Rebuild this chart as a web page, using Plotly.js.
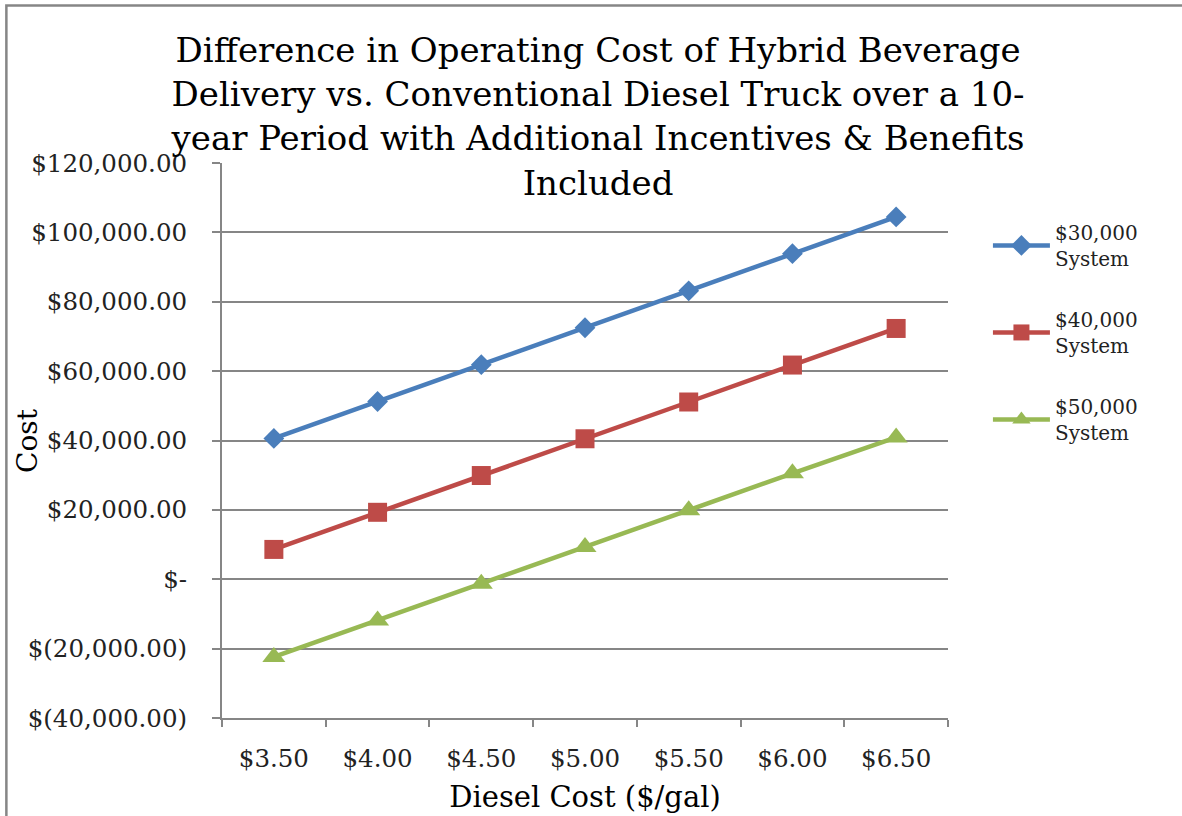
<!DOCTYPE html>
<html>
<head>
<meta charset="utf-8">
<script src="https://cdn.plot.ly/plotly-3.0.1.min.js"></script>
<style>
  html, body { margin: 0; padding: 0; background: #fff; }
  #chart { width: 1182px; height: 816px; }
</style>
</head>
<body>
<div id="chart"></div>
<script>
// ---- data ----
const dieselCost = ["$3.50", "$4.00", "$4.50", "$5.00", "$5.50", "$6.00", "$6.50"];
const system30k = [40600, 51250, 61850, 72500, 83150, 93850, 104450];
const system40k = [8600, 19300, 29900, 40500, 51100, 61750, 72300];
const system50k = [-22400, -11900, -1300, 9300, 19900, 30550, 40900];
const seriesNames = ["$30,000<br>System", "$40,000<br>System", "$50,000<br>System"];
const yTickVals = [-40000, -20000, 0, 20000, 40000, 60000, 80000, 100000, 120000];
const yTickText = ["$(40,000.00)", "$(20,000.00)", "$-", "$20,000.00", "$40,000.00",
                   "$60,000.00", "$80,000.00", "$100,000.00", "$120,000.00"];

const FONT = "DejaVu Serif, Liberation Serif, serif";
const GRID = "#868686";

const traces = [
  { x: dieselCost, y: system30k, name: seriesNames[0], legendgroup: "a",
    type: "scatter", mode: "lines+markers",
    line: { color: "#4A7EBB", width: 4.5 },
    marker: { symbol: "diamond", size: 16, color: "#4A7EBB" } },
  { x: dieselCost, y: system40k, name: seriesNames[1], legendgroup: "b",
    type: "scatter", mode: "lines+markers",
    line: { color: "#BE4B48", width: 4.5 },
    marker: { symbol: "square", size: 19, color: "#BE4B48" } },
  { x: dieselCost, y: system50k, name: seriesNames[2], legendgroup: "c",
    type: "scatter", mode: "lines+markers",
    line: { color: "#98B954", width: 4.5 },
    marker: { symbol: "triangle-up", size: 20, color: "#98B954" } }
];

const layout = {
  width: 1182, height: 816,
  margin: { l: 222, r: 234, t: 163, b: 98 },
  paper_bgcolor: "#fff", plot_bgcolor: "#fff",
  font: { family: FONT, color: "#000" },
  title: {
    text: "Difference in Operating Cost of Hybrid Beverage<br>Delivery vs. Conventional Diesel Truck over a 10-<br>year Period with Additional Incentives &amp; Benefits<br>Included",
    font: { family: FONT, size: 34, color: "#000" },
    xref: "container", x: 0.506, xanchor: "center",
    yref: "container", y: 0.924, yanchor: "top"
  },
  xaxis: {
    type: "category",
    range: [-0.5, 6.5],
    showgrid: false,
    showline: true, linecolor: GRID, linewidth: 2,
    ticks: "outside", tickson: "boundaries", ticklen: 7, tickwidth: 2, tickcolor: GRID,
    ticklabelstandoff: 18,
    tickfont: { family: FONT, size: 24.5, color: "#222" },
    title: { text: "Diesel Cost ($/gal)", font: { family: FONT, size: 29, color: "#000" }, standoff: 14 },
    fixedrange: true
  },
  yaxis: {
    range: [-40000, 120000],
    tickvals: yTickVals, ticktext: yTickText,
    showgrid: true, gridcolor: GRID, gridwidth: 2,
    zeroline: false,
    showline: true, linecolor: GRID, linewidth: 2,
    ticks: "outside", ticklen: 8, tickwidth: 2, tickcolor: GRID,
    ticklabelstandoff: 20,
    tickfont: { family: FONT, size: 24.5, color: "#222" },
    fixedrange: true
  },
  legend: {
    x: 1.055, xanchor: "left", y: 0.91, yanchor: "top",
    font: { family: FONT, size: 20, color: "#222" },
    traceorder: "grouped", tracegroupgap: 32, itemwidth: 57,
    bgcolor: "rgba(0,0,0,0)"
  },
  annotations: [
    { text: "Cost", xref: "paper", yref: "paper", x: -0.268, y: 0.5, textangle: -90,
      showarrow: false, font: { family: FONT, size: 28, color: "#000" },
      xanchor: "center", yanchor: "middle" }
  ],
  shapes: [
    { type: "rect", xref: "paper", yref: "paper", x0: -0.297, x1: 1.5, y0: -0.5, y1: 1.284,
      line: { color: GRID, width: 2.5 }, fillcolor: "rgba(0,0,0,0)", layer: "below" }
  ],
  showlegend: true
};

Plotly.newPlot("chart", traces, layout, { displayModeBar: false, staticPlot: true });
</script>
</body>
</html>
